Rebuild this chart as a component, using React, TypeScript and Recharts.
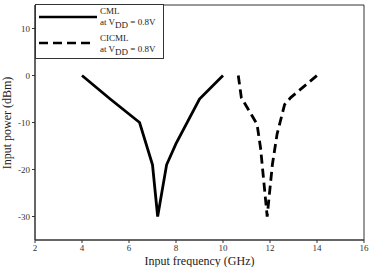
import { LineChart, Line, XAxis, YAxis, Legend, Label, ReferenceArea } from 'recharts';

// CML at VDD = 0.8V
const cmlFreq = [4, 5.2, 6.45, 7.0, 7.22, 7.6, 8.0, 9.0, 10.0];
const cmlPower = [0, -5, -10, -19, -30, -19, -14.5, -5, 0];

// CICML at VDD = 0.8V
const cicmlFreq = [10.65, 10.78, 11.45, 11.6, 11.88, 12.1, 12.3, 12.62, 12.88, 14.0];
const cicmlPower = [0, -4.7, -10.4, -15.5, -30, -19, -12.5, -6.2, -4.7, 0];

const xTicks = [2, 4, 6, 8, 10, 12, 14, 16];
const yTicks = [-30, -20, -10, 0, 10];

const cmlData = cmlFreq.map((f, i) => ({ freq: f, power: cmlPower[i] }));
const cicmlData = cicmlFreq.map((f, i) => ({ freq: f, power: cicmlPower[i] }));

const FONT = '"Liberation Serif", "DejaVu Serif", serif';
const tickStyle = { fill: '#333', fontSize: 9, fontFamily: FONT };

function LegendBox() {
  return (
    <div style={{ width: 129, height: 55, border: '1px solid #333', background: '#fff', boxSizing: 'border-box' }}>
      <svg width={127} height={53} style={{ display: 'block' }}>
        <line x1={3} x2={61} y1={12} y2={12} stroke="#000" strokeWidth={2.5} />
        <text x={64} y={9} fontSize={9} fontFamily={FONT} fill="#222">CML</text>
        <text x={64} y={20} fontSize={9} fontFamily={FONT} fill="#222">
          at V<tspan dy={3}>DD</tspan><tspan dy={-3}> = 0.8V</tspan>
        </text>
        <line x1={3} x2={55} y1={38} y2={38} stroke="#000" strokeWidth={2.5} strokeDasharray="9 5" />
        <text x={64} y={36} fontSize={9} fontFamily={FONT} fill="#222">CICML</text>
        <text x={64} y={47} fontSize={9} fontFamily={FONT} fill="#222">
          at V<tspan dy={3}>DD</tspan><tspan dy={-3}> = 0.8V</tspan>
        </text>
      </svg>
    </div>
  );
}

export default function App() {
  return (
    <div style={{ position: 'fixed', left: 0, top: 0, width: 369, height: 267, background: '#fff' }}>
      <LineChart width={369} height={267} margin={{ top: 5, right: 5, bottom: 0, left: 0 }}>
        <XAxis
          type="number"
          dataKey="freq"
          domain={[2, 16]}
          ticks={xTicks}
          height={27}
          tick={tickStyle}
          tickSize={3}
          tickMargin={2}
          stroke="#333"
          allowDataOverflow
        >
          <Label
            content={() => (
              <text x={199.5} y={265} textAnchor="middle" fontSize={12} fontFamily={FONT} fill="#222">
                Input frequency (GHz)
              </text>
            )}
          />
        </XAxis>
        <YAxis
          type="number"
          domain={[-35, 15]}
          ticks={yTicks}
          width={35}
          tick={tickStyle}
          tickSize={3}
          tickMargin={2}
          stroke="#333"
          allowDataOverflow
        >
          <Label
            content={() => (
              <text x={0} y={0} transform="translate(11,123) rotate(-90)" textAnchor="middle" fontSize={12} fontFamily={FONT} fill="#222">
                Input power (dBm)
              </text>
            )}
          />
        </YAxis>
        <ReferenceArea x1={2} x2={16} y1={-35} y2={15} fill="none" stroke="#333" strokeWidth={1} ifOverflow="visible" />
        <Legend
          layout="vertical"
          align="center"
          verticalAlign="middle"
          content={() => <LegendBox />}
          wrapperStyle={{ position: 'absolute', left: 35, top: 4, width: 129, height: 55 }}
        />
        <Line
          data={cmlData}
          dataKey="power"
          type="linear"
          stroke="#000"
          strokeWidth={2.8}
          dot={false}
          isAnimationActive={false}
        />
        <Line
          data={cicmlData}
          dataKey="power"
          type="linear"
          stroke="#000"
          strokeWidth={2.8}
          strokeDasharray="9 5"
          dot={false}
          isAnimationActive={false}
        />
      </LineChart>
    </div>
  );
}
